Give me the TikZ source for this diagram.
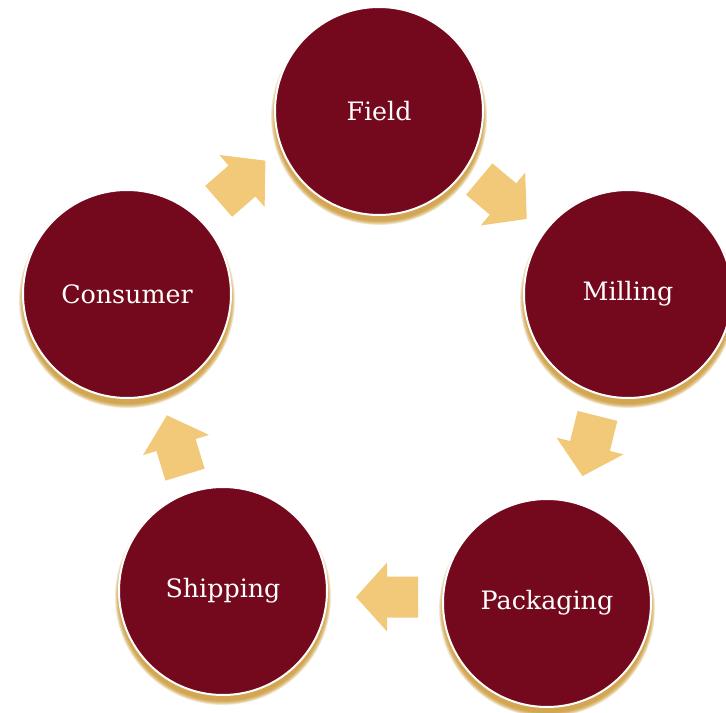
\documentclass[tikz,border=0pt]{standalone}
\usepackage{fontspec}
\setmainfont{DejaVu Serif}
\definecolor{stagered}{RGB}{116,9,30}
\definecolor{arrowgold}{RGB}{242,201,120}
\definecolor{shadowgold}{RGB}{196,136,20}
\tikzset{
  stage/.style={circle, fill=stagered, draw=white, line width=1.5pt,
    minimum size=156pt, inner sep=0pt, text=white,
    font=\fontsize{19}{22}\selectfont},
  flowarrow/.pic={\fill[arrowgold] (-31,-20.5) -- (0,-20.5) -- (0,-34.5) -- (31,0)
     -- (0,34.5) -- (0,20.5) -- (-31,20.5) -- cycle;}
}
\begin{document}
\begin{tikzpicture}[x=0.75pt,y=-0.75pt]
\useasboundingbox[fill=white] (0,0) rectangle (726,713);
\foreach \n/\x/\y/\t in {field/379/111/Field, milling/628/294/Milling,
    packaging/547/603/Packaging, shipping/223/591/Shipping,
    consumer/127/294/Consumer}{
  \foreach \k in {0,...,6}
    \fill[shadowgold, opacity=0.17] (\x,\y+6) circle[radius=78pt+\k*0.5pt];
  \node[stage] (\n) at (\x,\y) {\t};
}
\path (242,181) pic[rotate=41] {flowarrow};
\path (503,199) pic[rotate=-40] {flowarrow};
\path (590,446) pic[rotate=-104] {flowarrow};
\path (387,597) pic[rotate=180] {flowarrow};
\path (176,445) pic[rotate=107] {flowarrow};
\end{tikzpicture}
\end{document}
